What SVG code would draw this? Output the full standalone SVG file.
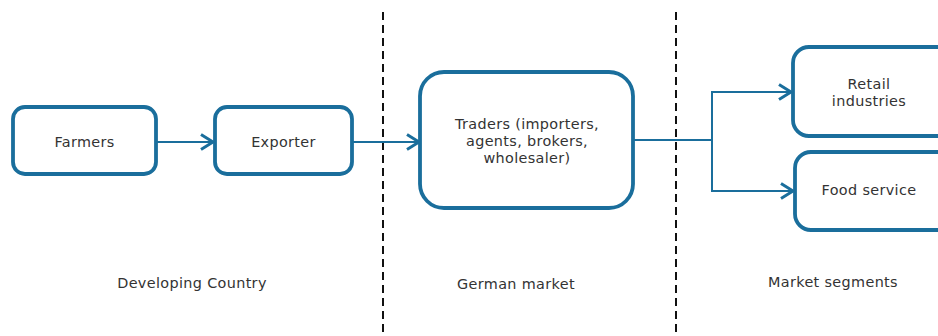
<svg xmlns="http://www.w3.org/2000/svg" width="938" height="336" viewBox="0 0 938 336">
<style>
.box{fill:#fff;stroke:#1a6e9c;stroke-width:3.8}
.t{font-family:"DejaVu Sans",Verdana,sans-serif;font-size:14.4px;letter-spacing:0.35px;fill:#333;text-anchor:middle}
.c{fill:none;stroke:#1a6e9c;stroke-width:2}
.d{stroke:#111;stroke-width:2;stroke-dasharray:8,5}
</style>
<defs>
<marker id="a" markerWidth="16" markerHeight="18" refX="14" refY="9" orient="auto" markerUnits="userSpaceOnUse">
<path d="M2,1.5 L14,9 L2,16.5" fill="none" stroke="#1a6e9c" stroke-width="3"/>
</marker>
</defs>
<rect width="938" height="336" fill="#fff"/>
<g id="dividers">
<line class="d" x1="383" y1="12" x2="383" y2="336"/>
<line class="d" x1="676" y1="12" x2="676" y2="336"/>
</g>
<g id="connectors">
<line class="c" x1="157" y1="142" x2="213" y2="142" marker-end="url(#a)"/>
<line class="c" x1="352" y1="142" x2="419" y2="142" marker-end="url(#a)"/>
<polyline class="c" points="633,140 712,140 712,92 791,92" marker-end="url(#a)"/>
<polyline class="c" points="712,140 712,191 793,191" marker-end="url(#a)"/>
</g>
<g id="farmers">
<rect class="box" x="13" y="107" width="143" height="67" rx="12"/>
<text class="t" x="84.5" y="147">Farmers</text>
</g>
<g id="exporter">
<rect class="box" x="215" y="107" width="137" height="67" rx="12"/>
<text class="t" x="283.5" y="147">Exporter</text>
</g>
<g id="traders">
<rect class="box" x="420" y="72" width="213" height="136" rx="24"/>
<text class="t" x="527" y="129">Traders (importers,</text>
<text class="t" x="527" y="146">agents, brokers,</text>
<text class="t" x="527" y="163">wholesaler)</text>
</g>
<g id="retail">
<rect class="box" x="793" y="47" width="160" height="89" rx="16"/>
<text class="t" x="869" y="89">Retail</text>
<text class="t" x="869" y="106">industries</text>
</g>
<g id="food">
<rect class="box" x="795" y="152" width="158" height="78" rx="16"/>
<text class="t" x="869" y="195">Food service</text>
</g>
<g id="labels">
<text class="t" x="192" y="288">Developing Country</text>
<text class="t" x="516" y="289">German market</text>
<text class="t" x="833" y="287">Market segments</text>
</g>
</svg>
